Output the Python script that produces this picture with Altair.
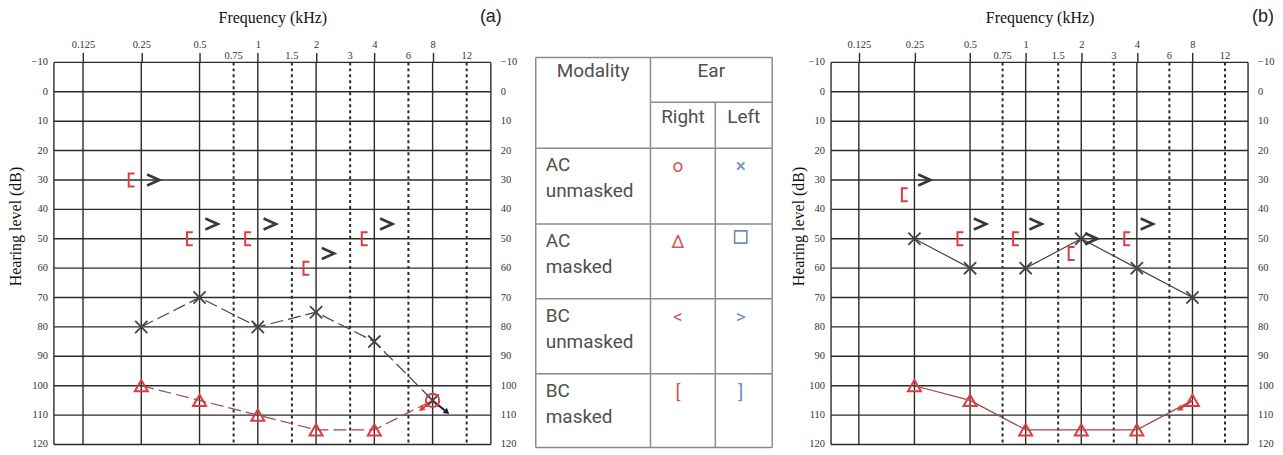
import math
import altair as alt
import pandas as pd

# ---------------- data ----------------
OCTAVE_FREQS = [0.125, 0.25, 0.5, 1, 2, 4, 8]
MID_FREQS = [0.75, 1.5, 3, 6, 12]
DB_LEVELS = [-10, 0, 10, 20, 30, 40, 50, 60, 70, 80, 90, 100, 110, 120]

AC_FREQS = [0.25, 0.5, 1, 2, 4, 8]
BC_FREQS = [0.25, 0.5, 1, 2, 4]

# panel (a)
A_LEFT_AC = [80, 70, 80, 75, 85, 105]
A_RIGHT_AC = [100, 105, 110, 115, 115, 105]
A_RIGHT_AC_MASKED = [True, True, True, True, True, False]
A_RIGHT_BC_MASKED = [30, 50, 50, 60, 50]
A_LEFT_BC = [30, 45, 45, 55, 45]
A_NR_ARROWS = [  # (ear, start freq, start dB, tip freq, tip dB)
    ("left", 8, 105, 9.5, 109),
    ("right", 8, 105, 7.0, 108),
]

# panel (b)
B_LEFT_AC = [50, 60, 60, 50, 60, 70]
B_RIGHT_AC = [100, 105, 115, 115, 115, 105]
B_RIGHT_AC_MASKED = [True, True, True, True, True, True]
B_RIGHT_BC_MASKED = [35, 50, 50, 55, 50]
B_LEFT_BC = [30, 45, 45, 50, 45]
B_NR_ARROWS = [
    ("right", 8, 105, 6.8, 108),
]

# legend table
TABLE_HEAD_1 = ["Modality", "Ear"]
TABLE_HEAD_2 = ["Right", "Left"]
TABLE_MODALITY_1 = ["AC", "AC", "BC", "BC"]
TABLE_MODALITY_2 = ["unmasked", "masked", "unmasked", "masked"]
TABLE_RIGHT_SYMBOLS = ["o", "Δ", "<", "["]
TABLE_LEFT_SYMBOLS = ["×", "", ">", "]"]
TABLE_LEFT_SQUARE_ROW = 1

# ---------------- style ----------------
SERIF = "Liberation Serif"
SANS = "Liberation Sans"
TABLE_FONT = "Roboto"
GRID = "#2b2b2b"
LABEL = "#333333"
XCOL = "#4a4242"
DARK = "#3a3636"
RED = "#dc3c42"
LINE_RED = "#9a4a4a"
T_TEXT = "#4f4f4f"
T_RED = "#d4575a"
T_BLUE = "#6d8cc0"
T_LINE = "#8c8c8c"
ARROW_COLORS = {"left": "#1e1e1e", "right": RED}

FMIN = 0.125 / math.sqrt(2)
FMAX = 16
XS = alt.Scale(type="log", base=2, domain=[FMIN, FMAX], nice=False)
YS = alt.Scale(domain=[-10, 120], reverse=True, nice=False, zero=False)

CROSS = "M-1,-1L1,1M-1,1L1,-1"
BRACKET = "M0.5,-1L-0.4,-1L-0.4,1L0.5,1"
CHEVRON = "M-0.9,-0.8L0.9,0L-0.9,0.8"


def arrow_angle(w, h, f0, d0, f1, d1):
    span = math.log2(FMAX) - math.log2(FMIN)
    dx = w * (math.log2(f1) - math.log2(f0)) / span
    dy = h * (d1 - d0) / 130.0
    return math.degrees(math.atan2(dx, -dy)) % 360


def panel(tag, tag_dx, tag_dy, w, h, title_pad, ytitle_pad, left_ac, right_ac, right_masked,
          right_bc, left_bc, arrows, dashed, chev_dx, br_dx):
    def X(field="f"):
        return alt.X(f"{field}:Q", scale=XS)

    def Y(field="db"):
        return alt.Y(f"{field}:Q", scale=YS)

    db_df = pd.DataFrame({"db": DB_LEVELS, "right": [FMAX] * len(DB_LEVELS),
                          "left": [FMIN] * len(DB_LEVELS)})
    hgrid = alt.Chart(db_df).mark_rule(color=GRID, strokeWidth=1.4).encode(
        y=alt.Y("db:Q", scale=YS, axis=alt.Axis(
            orient="left", values=DB_LEVELS, labels=False, grid=False, ticks=False,
            domain=False, title="Hearing level (dB)", titlePadding=ytitle_pad, titleY=164)))
    llabels = alt.Chart(db_df).mark_text(
        align="right", baseline="middle", dx=-6, font=SERIF, fontSize=10.5, color=LABEL).encode(
        x=X("left"), y=Y(), text="db:Q")
    rlabels = alt.Chart(db_df).mark_text(
        align="left", baseline="middle", dx=10, font=SERIF, fontSize=10.5, color=LABEL).encode(
        x=X("right"), y=Y(), text="db:Q")
    vgrid = alt.Chart(pd.DataFrame({"f": OCTAVE_FREQS})).mark_rule(
        color=GRID, strokeWidth=1.4).encode(
        x=alt.X("f:Q", scale=XS, axis=alt.Axis(
            orient="top", values=OCTAVE_FREQS, format="~g", grid=False, ticks=True,
            tickSize=10, tickColor=GRID, tickWidth=1.4, domain=False, labelPadding=3,
            labelOverlap=False, title="Frequency (kHz)", titlePadding=title_pad)))
    border = alt.Chart(pd.DataFrame({"f": [FMIN, FMAX]})).mark_rule(
        color=GRID, strokeWidth=1.4).encode(x=X())
    mid_df = pd.DataFrame({"f": MID_FREQS, "top": [-10] * len(MID_FREQS)})
    dgrid = alt.Chart(mid_df).mark_rule(
        color=GRID, strokeWidth=2, strokeDash=[3, 3]).encode(x=X())
    mid_labels = alt.Chart(mid_df).mark_text(
        baseline="bottom", dy=-1, font=SERIF, fontSize=10.5, color=LABEL).encode(
        x=X(), y=Y("top"), text=alt.Text("f:Q", format="~g"))
    tag_df = pd.DataFrame({"f": [FMAX], "db": [-10], "t": [tag]})
    tag_text = alt.Chart(tag_df).mark_text(
        align="right", baseline="middle", dx=tag_dx, dy=tag_dy, font=SANS, fontSize=18,
        color="#222222").encode(x=X(), y=Y(), text="t:N")

    left_df = pd.DataFrame({"f": AC_FREQS, "db": left_ac})
    right_df = pd.DataFrame({"f": AC_FREQS, "db": right_ac, "masked": right_masked})
    line_kw = {"strokeDash": [13, 5]} if dashed else {}
    left_line = alt.Chart(left_df).mark_line(color=XCOL, strokeWidth=1.2, **line_kw).encode(
        x=X(), y=Y())
    right_line = alt.Chart(right_df).mark_line(color=LINE_RED, strokeWidth=1.2, **line_kw).encode(
        x=X(), y=Y())

    layers = [hgrid, vgrid, border, dgrid, llabels, rlabels, mid_labels, tag_text,
              left_line, right_line]

    for ear, f0, d0, f1, d1 in arrows:
        adf = pd.DataFrame({"f": [f0], "db": [d0], "f2": [f1], "db2": [d1]})
        col = ARROW_COLORS[ear]
        layers.append(alt.Chart(adf).mark_rule(strokeWidth=2, color=col).encode(
            x=X(), y=Y(), x2="f2:Q", y2="db2:Q"))
        layers.append(alt.Chart(adf).mark_point(
            shape="triangle-up", filled=True, size=45, opacity=1, color=col,
            angle=arrow_angle(w, h, f0, d0, f1, d1)).encode(x=X("f2"), y=Y("db2")))

    left_x = alt.Chart(left_df).mark_point(
        shape=CROSS, size=150, filled=False, color=XCOL, strokeWidth=1.8, opacity=1).encode(x=X(), y=Y())
    tri = alt.Chart(right_df[right_df["masked"]]).mark_point(
        shape="triangle-up", size=170, filled=False, color=RED, strokeWidth=2, opacity=1).encode(x=X(), y=Y())
    layers += [left_x, tri]
    unm = right_df[~right_df["masked"]]
    if len(unm):
        layers.append(alt.Chart(unm).mark_point(
            shape="circle", size=180, filled=False, color=RED, strokeWidth=2, opacity=1).encode(x=X(), y=Y()))

    bc_r = pd.DataFrame({"f": BC_FREQS, "db": right_bc})
    bc_l = pd.DataFrame({"f": BC_FREQS, "db": left_bc})
    layers.append(alt.Chart(bc_r).mark_point(
        shape=BRACKET, size=170, filled=False, color=RED, strokeWidth=2, opacity=1,
        xOffset=br_dx).encode(x=X(), y=Y()))
    layers.append(alt.Chart(bc_l).mark_point(
        shape=CHEVRON, size=190, filled=False, color=DARK, strokeWidth=2.6, opacity=1,
        xOffset=chev_dx).encode(x=X(), y=Y()))

    return alt.layer(*layers).properties(width=w, height=h)


# ---------------- legend table ----------------
COL_EDGES = [0, 115, 180, 237]
ROW_EDGES = [0, 45, 91, 167, 242, 317, 391]
TABLE_W = 237
TABLE_H = 383
TX = alt.Scale(domain=[0, 237], nice=False, zero=False)
TY = alt.Scale(domain=[5, 388], reverse=True, nice=False, zero=False)


def table_chart():
    rules = []
    for i, y in enumerate(ROW_EDGES):
        x0 = COL_EDGES[1] if i == 1 else COL_EDGES[0]
        rules.append({"x": x0, "x2": COL_EDGES[-1], "y": y, "y2": y})
    for j, x in enumerate(COL_EDGES):
        y0 = ROW_EDGES[1] if j == 2 else ROW_EDGES[0]
        rules.append({"x": x, "x2": x, "y": y0, "y2": ROW_EDGES[-1]})
    rules_df = pd.DataFrame(rules)

    def tx(f):
        return alt.X(f"{f}:Q", scale=TX, axis=None)

    def ty(f):
        return alt.Y(f"{f}:Q", scale=TY, axis=None)

    grid = alt.Chart(rules_df).mark_rule(color=T_LINE, strokeWidth=1.5).encode(
        x=tx("x"), x2="x2:Q", y=ty("y"), y2="y2:Q")

    c0 = (COL_EDGES[0] + COL_EDGES[1]) / 2
    c1 = (COL_EDGES[1] + COL_EDGES[2]) / 2
    c2 = (COL_EDGES[2] + COL_EDGES[3]) / 2
    h1 = pd.DataFrame({"text": TABLE_HEAD_1, "x": [c0, (COL_EDGES[1] + COL_EDGES[3]) / 2],
                       "y": [ROW_EDGES[0]] * 2})
    h2 = pd.DataFrame({"text": TABLE_HEAD_2, "x": [c1, c2], "y": [ROW_EDGES[1]] * 2})
    heads1 = alt.Chart(h1).mark_text(
        font=TABLE_FONT, fontSize=19, color=T_TEXT, baseline="middle", dy=14).encode(
        x=tx("x"), y=ty("y"), text="text:N")
    heads2 = alt.Chart(h2).mark_text(
        font=TABLE_FONT, fontSize=19, color=T_TEXT, baseline="middle", dy=15).encode(
        x=tx("x"), y=ty("y"), text="text:N")

    row_tops = ROW_EDGES[2:6]
    lab1 = pd.DataFrame({"x": [COL_EDGES[0]] * 4, "y": row_tops, "text": TABLE_MODALITY_1})
    lab2 = pd.DataFrame({"x": [COL_EDGES[0]] * 4, "y": row_tops, "text": TABLE_MODALITY_2})
    labs1 = alt.Chart(lab1).mark_text(font=TABLE_FONT, fontSize=19, color=T_TEXT, align="left",
                                      baseline="middle", dx=10, dy=17).encode(
        x=tx("x"), y=ty("y"), text="text:N")
    labs2 = alt.Chart(lab2).mark_text(font=TABLE_FONT, fontSize=19, color=T_TEXT, align="left",
                                      baseline="middle", dx=10, dy=43).encode(
        x=tx("x"), y=ty("y"), text="text:N")

    sym_r = pd.DataFrame({"x": [c1] * 4, "y": row_tops, "text": TABLE_RIGHT_SYMBOLS})
    sym_l = pd.DataFrame({"x": [c2] * 4, "y": row_tops, "text": TABLE_LEFT_SYMBOLS})
    syms_r = alt.Chart(sym_r).mark_text(font=TABLE_FONT, fontSize=19, color=T_RED,
                                        baseline="middle", dx=-5, dy=18).encode(
        x=tx("x"), y=ty("y"), text="text:N")
    syms_l = alt.Chart(sym_l).mark_text(font=TABLE_FONT, fontSize=19, color=T_BLUE,
                                        baseline="middle", dx=-3, dy=18).encode(
        x=tx("x"), y=ty("y"), text="text:N")
    sq = alt.Chart(pd.DataFrame({"x": [c2], "y": [row_tops[TABLE_LEFT_SQUARE_ROW]]})).mark_point(
        shape="square", size=150, filled=False, color=T_BLUE, strokeWidth=1.6, opacity=1,
        xOffset=-3, yOffset=13).encode(x=tx("x"), y=ty("y"))

    return alt.layer(grid, heads1, heads2, labs1, labs2, syms_r, syms_l, sq).properties(
        width=TABLE_W, height=TABLE_H)


panel_a = panel("(a)", 11, -45, 438, 383, 14, 30, A_LEFT_AC, A_RIGHT_AC, A_RIGHT_AC_MASKED,
                A_RIGHT_BC_MASKED, A_LEFT_BC, A_NR_ARROWS, True, 12, -10)
panel_b = panel("(b)", 26, -45, 418, 383, 14, 25, B_LEFT_AC, B_RIGHT_AC, B_RIGHT_AC_MASKED,
                B_RIGHT_BC_MASKED, B_LEFT_BC, B_NR_ARROWS, False, 10, -10)

chart = alt.hconcat(panel_a, table_chart(), panel_b, spacing=17).properties(
    padding=0
).configure_view(
    strokeWidth=0
).configure_axis(
    labelFont=SERIF, titleFont=SERIF, labelFontSize=10.5, titleFontSize=16,
    labelColor=LABEL, titleColor="#111111", titleFontWeight="normal"
)

chart.save("out.html", embed_options={"renderer": "svg", "actions": False})
